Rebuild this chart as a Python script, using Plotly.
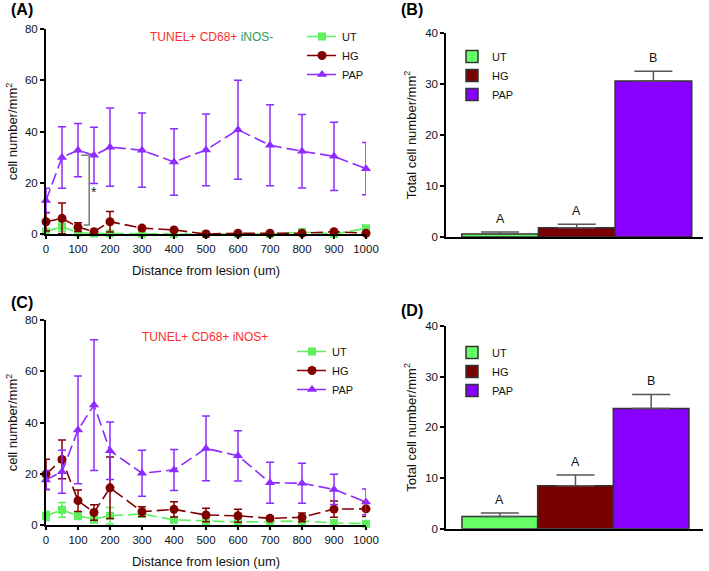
import plotly.graph_objects as go

# ---------------- data ----------------
distance = [0, 50, 100, 150, 200, 300, 400, 500, 600, 700, 800, 900, 1000]
x_tick_vals = [0, 100, 200, 300, 400, 500, 600, 700, 800, 900, 1000]

# Panel A: TUNEL+ CD68+ iNOS-
ut_a = [0.9, 2.9, 0.5, 0.2, 0.2, 0.0, 0.0, 0.0, 0.0, 0.0, 0.8, 0.0, 2.2]
ut_a_err = [0.6, 2.0, 0.4, 0.2, 0.2, 0.0, 0.0, 0.0, 0.0, 0.0, 0.6, 0.0, 1.2]
hg_a = [4.8, 6.1, 2.7, 0.9, 4.8, 2.3, 1.6, 0.0, 0.3, 0.3, 0.3, 0.9, 0.3]
hg_a_err = [3.6, 6.0, 1.7, 0.4, 4.0, 0.5, 0.4, 0.2, 0.2, 0.2, 0.3, 0.4, 0.3]
pap_a = [13.1, 29.9, 32.7, 30.7, 33.9, 32.7, 28.1, 32.8, 40.7, 34.6, 32.3, 30.3, 25.5]
pap_a_err = [4.8, 12.0, 10.4, 11.0, 15.3, 14.5, 13.0, 14.0, 19.3, 15.8, 14.3, 13.3, 10.2]

# Panel C: TUNEL+ CD68+ iNOS+
ut_c = [3.6, 5.9, 3.6, 2.3, 3.6, 4.3, 2.0, 1.5, 1.2, 1.3, 1.6, 0.8, 0.5]
ut_c_err = [1.8, 2.9, 1.5, 1.5, 3.2, 1.0, 0.6, 0.8, 0.8, 0.5, 0.6, 0.5, 0.5]
hg_c = [19.8, 25.6, 9.5, 4.9, 14.5, 5.2, 6.1, 3.9, 3.6, 2.6, 3.0, 6.2, 6.3]
hg_c_err = [5.9, 7.6, 4.2, 3.0, 12.0, 1.9, 3.0, 2.6, 2.5, 0.7, 1.7, 3.2, 3.0]
pap_c = [17.6, 20.8, 37.1, 46.8, 29.0, 20.2, 21.5, 29.9, 27.0, 16.5, 16.3, 13.9, 9.0]
pap_c_err = [3.7, 8.4, 21.0, 25.5, 11.2, 9.0, 8.0, 12.6, 9.8, 8.0, 7.8, 5.9, 5.0]

# Panels B and D: totals
groups = ["UT", "HG", "PAP"]
total_b = [0.6, 1.8, 30.6]
total_b_err = [0.4, 0.7, 1.9]
letters_b = ["A", "A", "B"]
total_d = [2.4, 8.5, 23.7]
total_d_err = [0.7, 2.1, 2.8]
letters_d = ["A", "A", "B"]

# ---------------- styling ----------------
FONT = "Liberation Sans, Arial, Helvetica, sans-serif"
C_UT = "#5CF05C"
C_HG = "#800000"
C_PAP = "#8E2BFF"
BAR_UT = "#66FF66"
BAR_HG = "#7A0000"
BAR_PAP = "#8800FF"
W, H = 709, 571


def px_x(a, b):
    return [a / W, b / W]


def px_y(top, bottom):
    return [1 - bottom / H, 1 - top / H]


fig = go.Figure()

series_style = [
    ("UT", C_UT, "square", 8),
    ("HG", C_HG, "circle", 9),
    ("PAP", C_PAP, "triangle-up", 9),
]


def add_lines(vals, errs, xa, ya, legend):
    for (name, col, sym, sz), v, e in zip(series_style, vals, errs):
        fig.add_trace(go.Scatter(
            x=distance, y=v, name=name, mode="lines+markers",
            xaxis=xa, yaxis=ya, legend=legend, cliponaxis=False,
            line=dict(color=col, width=1.6, dash="12px,5px"),
            marker=dict(symbol=sym, size=sz, color=col),
            error_y=dict(type="data", array=e, visible=True,
                         color=col, thickness=1.5, width=4),
        ))


add_lines([ut_a, hg_a, pap_a], [ut_a_err, hg_a_err, pap_a_err], "x", "y", "legend")
add_lines([ut_c, hg_c, pap_c], [ut_c_err, hg_c_err, pap_c_err], "x3", "y3", "legend3")

bar_cols = [BAR_UT, BAR_HG, BAR_PAP]


def add_bars(vals, errs, xa, ya, legend):
    for i, (g, v, e, col) in enumerate(zip(groups, vals, errs, bar_cols)):
        fig.add_trace(go.Bar(
            x=[i], y=[v], name=g, width=1.0,
            xaxis=xa, yaxis=ya, legend=legend,
            marker=dict(color=col, line=dict(color="#333333", width=1.5)),
            error_y=dict(type="data", array=[e], arrayminus=[0], symmetric=False,
                         visible=True, color="#555555", thickness=1.5, width=19),
        ))


add_bars(total_b, total_b_err, "x2", "y2", "legend2")
add_bars(total_d, total_d_err, "x4", "y4", "legend4")

# ---------------- axes ----------------
tickfont = dict(family=FONT, size=11.5, color="#111111")
bartickfont = dict(family=FONT, size=11.5, color="#111111")
titlefont = dict(family=FONT, size=13, color="#111111")

line_x = dict(range=[0, 1000], tickmode="array", tickvals=x_tick_vals, automargin=False,
              showline=True, linecolor="black", linewidth=2, ticks="outside",
              ticklen=3, tickwidth=1.5, tickcolor="black", showgrid=False,
              zeroline=False, tickfont=tickfont,
              title=dict(text="Distance from lesion (um)", font=titlefont, standoff=12))
line_y = dict(range=[0, 80], tickvals=[0, 20, 40, 60, 80], automargin=False,
              showline=True, linecolor="black", linewidth=2, ticks="outside",
              ticklen=4, tickwidth=1.5, tickcolor="black", showgrid=False,
              zeroline=False, tickfont=tickfont,
              title=dict(text="cell number/mm<sup>2</sup>", font=titlefont, standoff=4))
bar_y = dict(range=[0, 40], tickvals=[0, 10, 20, 30, 40], automargin=False,
             showline=True, linecolor="black", linewidth=1.5, ticks="outside",
             ticklen=4, tickwidth=1.5, tickcolor="black", showgrid=False,
             zeroline=False, tickfont=bartickfont,
             title=dict(text="Total cell number/mm<sup>2</sup>", font=titlefont, standoff=6))
bar_x = dict(showline=True, linecolor="black", linewidth=1.5, showticklabels=False,
             ticks="", showgrid=False, zeroline=False, automargin=False)

fig.update_layout(
    xaxis=dict(domain=px_x(46, 366), anchor="y", **line_x),
    yaxis=dict(domain=px_y(29, 234), anchor="x", **line_y),
    xaxis3=dict(domain=px_x(46, 366), anchor="y3", **line_x),
    yaxis3=dict(domain=px_y(320, 525), anchor="x3", **line_y),
    xaxis2=dict(domain=px_x(446, 703), anchor="y2", range=[-0.705, 2.647], **bar_x),
    yaxis2=dict(domain=px_y(33, 237), anchor="x2", **bar_y),
    xaxis4=dict(domain=px_x(446, 703), anchor="y4", range=[-0.711, 2.685], **bar_x),
    yaxis4=dict(domain=px_y(326, 528.7), anchor="x4", **bar_y),
)

legend_common = dict(font=dict(family=FONT, size=11, color="#111111"),
                     bgcolor="rgba(0,0,0,0)", itemwidth=30, tracegroupgap=0,
                     xanchor="left", yanchor="top")
fig.update_layout(
    showlegend=True,
    legend=dict(x=302 / W, y=1 - 22 / H, **legend_common),
    legend3=dict(x=292 / W, y=1 - 337 / H, **legend_common),
    legend2=dict(x=452 / W, y=1 - 42 / H, **legend_common),
    legend4=dict(x=452 / W, y=1 - 338 / H, **legend_common),
)

annotations = []
# panel letters
for txt, xp, yp in [("(A)", 9, 9), ("(B)", 399, 9), ("(C)", 9, 302), ("(D)", 399, 310)]:
    annotations.append(dict(text="<b>" + txt + "</b>", x=xp / W, y=1 - yp / H,
                            xref="paper", yref="paper", xanchor="left", yanchor="middle",
                            showarrow=False, font=dict(family=FONT, size=16, color="black")))
# inline headings
annotations.append(dict(text="TUNEL+ CD68+ <span style='color:#2E9B52'>iNOS-</span>",
                        x=211 / W, y=1 - 37 / H, xref="paper", yref="paper",
                        xanchor="center", yanchor="middle",
                        showarrow=False, font=dict(family=FONT, size=12, color="#FF2B2B")))
annotations.append(dict(text="TUNEL+ CD68+ iNOS+",
                        x=205 / W, y=1 - 337 / H, xref="paper", yref="paper",
                        xanchor="center", yanchor="middle",
                        showarrow=False, font=dict(family=FONT, size=12, color="#FF2B2B")))
# significance letters
for i, (v, e, t) in enumerate(zip(total_b, total_b_err, letters_b)):
    annotations.append(dict(text=t, x=i, y=v + e, xref="x2", yref="y2", yanchor="bottom",
                            xanchor="center", yshift=4, showarrow=False,
                            font=dict(family=FONT, size=12.5, color="#111111")))
for i, (v, e, t) in enumerate(zip(total_d, total_d_err, letters_d)):
    annotations.append(dict(text=t, x=i, y=v + e, xref="x4", yref="y4", yanchor="bottom",
                            xanchor="center", yshift=4, showarrow=False,
                            font=dict(family=FONT, size=12.5, color="#111111")))
# asterisks
annotations.append(dict(text="*", x=150, y=16.5, xref="x", yref="y", showarrow=False,
                        xanchor="center", yanchor="middle",
                        font=dict(family=FONT, size=14, color="#222222")))
annotations.append(dict(text="*", x=-50, y=8.0, xref="x3", yref="y3", showarrow=False,
                        xanchor="center", yanchor="middle",
                        font=dict(family=FONT, size=14, color="#222222")))

shapes = [
    # bracket in A
    dict(type="path", path="M 110,30.7 L 135,30.7 L 135,3.5 L 118,3.5",
         xref="x", yref="y", line=dict(color="#777777", width=1.5)),
    # bracket in C
    dict(type="path", path="M -3,17.3 L -21,17.3 L -21,3.2 L -3,3.2",
         xref="x3", yref="y3", line=dict(color="#777777", width=1.2)),
]

fig.update_layout(
    width=W, height=H, margin=dict(l=0, r=0, t=0, b=0, autoexpand=False),
    paper_bgcolor="white", plot_bgcolor="white",
    annotations=annotations, shapes=shapes,
    font=dict(family=FONT), barmode="overlay",
)

fig.write_html(
    "out.html",
    config={"displayModeBar": False},
    post_script="document.body.style.margin='0';document.body.style.padding='0';",
)
